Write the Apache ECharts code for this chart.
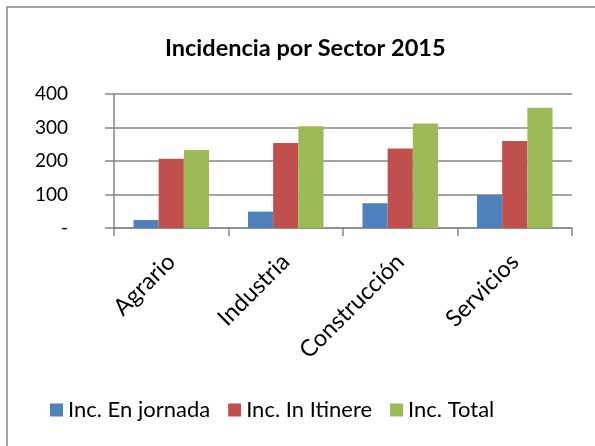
<!DOCTYPE html>
<html>
<head>
<meta charset="utf-8">
<script src="https://cdn.jsdelivr.net/npm/echarts@6/dist/echarts.min.js"></script>
<style>
  html, body { margin: 0; padding: 0; background: #fff; }
  #chart { width: 595px; height: 446px; }
</style>
</head>
<body>
<div id="chart"></div>
<script>
/**categorías */
let sectores = ['Agrario', 'Industria', 'Construcción', 'Servicios'];
/**series */
let enJornada = [24, 49, 74, 99];
let inItinere = [207, 254, 237, 260];
let total = [233, 304, 312, 359];
let serieNombres = ['Inc. En jornada', 'Inc. In Itinere', 'Inc. Total'];
let colores = ['#4F81BD', '#C0504D', '#9BBB59'];

let fuente = 'Lato';
let chart = echarts.init(document.getElementById('chart'));

let option = {
  animation: false,
  color: colores,
  title: {
    text: 'Incidencia por Sector 2015',
    left: 160,
    top: 31,
    textStyle: { fontFamily: fuente, fontWeight: 'bold', fontSize: 23.5, color: '#000' }
  },
  graphic: [{
    type: 'rect',
    shape: { x: 7, y: 7, width: 600, height: 460 },
    style: { fill: 'none', stroke: '#878787', lineWidth: 1.5 },
    silent: true
  }],
  legend: {
    data: serieNombres,
    bottom: 20,
    left: 45,
    itemWidth: 13,
    itemHeight: 13,
    itemGap: 18,
    icon: 'rect',
    textStyle: { fontFamily: fuente, fontSize: 22, color: '#000' }
  },
  grid: { left: 114, right: 23, top: 94, bottom: 218 },
  xAxis: {
    type: 'category',
    data: sectores,
    axisLine: { lineStyle: { color: '#868686', width: 1.5 } },
    axisTick: { show: true, length: 8, interval: 0, lineStyle: { color: '#868686', width: 1.5 } },
    axisLabel: {
      rotate: 45, interval: 0, margin: 30,
      fontFamily: fuente, fontSize: 23.5, color: '#000'
    }
  },
  yAxis: {
    type: 'value',
    min: 0, max: 400, interval: 100,
    axisLine: { show: true, lineStyle: { color: '#868686', width: 1.5 } },
    axisTick: { show: true, length: 9, lineStyle: { color: '#868686', width: 1.5 } },
    splitLine: { lineStyle: { color: '#868686', width: 1.5 } },
    axisLabel: {
      margin: 46, align: 'right',
      fontFamily: fuente, fontSize: 19, color: '#000',
      formatter: function (v) { return v === 0 ? '-' : v; }
    }
  },
  series: [
    { name: serieNombres[0], type: 'bar', data: enJornada, barGap: '0%', barCategoryGap: '34%' },
    { name: serieNombres[1], type: 'bar', data: inItinere, barGap: '0%', barCategoryGap: '34%' },
    { name: serieNombres[2], type: 'bar', data: total, barGap: '0%', barCategoryGap: '34%' }
  ]
};
chart.setOption(option);
</script>
</body>
</html>
